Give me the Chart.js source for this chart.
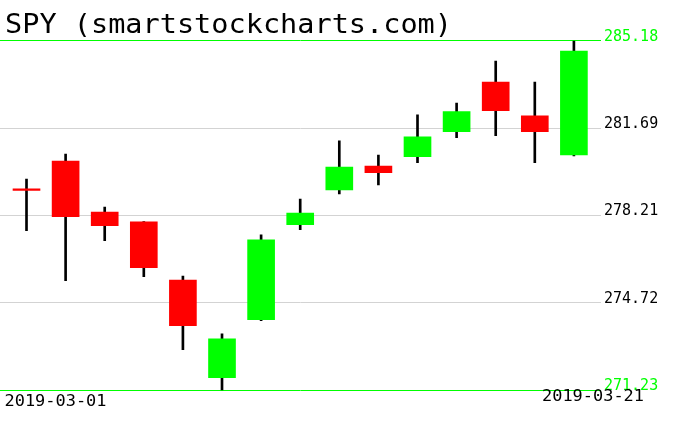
<!DOCTYPE html>
<html>
<head>
<meta charset="utf-8">
<script src="https://cdn.jsdelivr.net/npm/chart.js@4/dist/chart.umd.min.js"></script>
<style>
  html, body { margin: 0; padding: 0; background: #ffffff; }
  #wrap { width: 676px; height: 431px; position: relative; }
  canvas { display: block; }
</style>
</head>
<body>
<div id="wrap"><canvas id="c" width="676" height="431"></canvas></div>
<script>
// ---- data ----
const title = 'SPY (smartstockcharts.com)';
const dates = ['2019-03-01','2019-03-04','2019-03-05','2019-03-06','2019-03-07','2019-03-08',
               '2019-03-11','2019-03-12','2019-03-13','2019-03-14','2019-03-15',
               '2019-03-18','2019-03-19','2019-03-20','2019-03-21'];
const openP  = [279.21, 280.38, 278.34, 277.95, 275.63, 271.73, 274.05, 277.84, 279.23, 280.18, 280.55, 281.55, 283.53, 282.18, 280.62];
const highP  = [279.66, 280.66, 278.54, 277.96, 275.79, 273.48, 277.43, 278.86, 281.18, 280.62, 282.22, 282.69, 284.37, 283.53, 285.18];
const lowP   = [277.60, 275.60, 277.20, 275.76, 272.85, 271.23, 274.01, 277.64, 279.07, 279.43, 280.31, 281.31, 281.39, 280.31, 280.58];
const closeP = [279.21, 278.16, 277.80, 276.12, 273.81, 273.28, 277.23, 278.30, 280.14, 279.91, 281.34, 282.35, 282.39, 281.55, 284.77];
const yTicks = [285.18, 281.69, 278.21, 274.72, 271.23];

const UP = '#00ff00', DOWN = '#ff0000';
const yMin = Math.min(...yTicks), yMax = Math.max(...yTicks);

const bodies = dates.map((d, i) => ({ x: i, y: [openP[i], closeP[i]] }));
const wicks  = dates.map((d, i) => ({ x: i, y: [lowP[i], highP[i]] }));
const bodyColors = dates.map((d, i) => closeP[i] > openP[i] ? UP : DOWN);

const textPlugin = {
  id: 'texts',
  afterDraw(chart) {
    const ctx = chart.ctx;
    ctx.save();
    ctx.fillStyle = '#000';
    ctx.textBaseline = 'alphabetic';
    // title
    ctx.font = "26px 'DejaVu Sans Mono'";
    let w = ctx.measureText(title).width;
    ctx.save();
    ctx.translate(5, 33);
    ctx.scale(447 / w, 1);
    ctx.fillText(title, 0, 0);
    ctx.restore();
    // first and last dates
    ctx.font = "16px 'DejaVu Sans Mono'";
    const first = dates[0], last = dates[dates.length - 1];
    w = ctx.measureText(first).width;
    ctx.save();
    ctx.translate(4.5, 406);
    ctx.scale(102 / w, 1);
    ctx.fillText(first, 0, 0);
    ctx.restore();
    w = ctx.measureText(last).width;
    ctx.save();
    ctx.translate(644 - 102, 401);
    ctx.scale(102 / w, 1);
    ctx.fillText(last, 0, 0);
    ctx.restore();
    ctx.restore();
  }
};

new Chart(document.getElementById('c'), {
  type: 'bar',
  data: {
    datasets: [
      {
        label: 'body',
        data: bodies,
        backgroundColor: bodyColors,
        borderWidth: 0,
        barThickness: 27,
        minBarLength: 1.5,
        grouped: false
      },
      {
        label: 'wick',
        data: wicks,
        backgroundColor: '#000000',
        borderWidth: 0,
        barThickness: 2,
        grouped: false
      }
    ]
  },
  options: {
    responsive: false,
    animation: false,
    devicePixelRatio: 1,
    layout: { padding: { top: 40.7, bottom: 40.7, left: 0, right: 0 } },
    plugins: { legend: { display: false }, tooltip: { enabled: false }, title: { display: false } },
    scales: {
      x: {
        type: 'linear',
        display: false,
        offset: false,
        min: -0.678,
        max: 14.693
      },
      y: {
        position: 'right',
        min: yMin,
        max: yMax,
        z: 1,
        afterBuildTicks(scale) { scale.ticks = yTicks.map(v => ({ value: v })); },
        afterFit(scale) { scale.width = 75; },
        border: { display: false },
        grid: {
          drawTicks: false,
          lineWidth: 1,
          color: (c) => (c.tick && (c.tick.value === yMin || c.tick.value === yMax)) ? UP : '#d3d3d3'
        },
        ticks: {
          padding: 3,
          labelOffset: -4,
          font: { family: "'DejaVu Sans Mono'", size: 15 },
          color: (c) => (c.tick && (c.tick.value === yMin || c.tick.value === yMax)) ? UP : '#000000',
          callback: (v) => Number(v).toFixed(2)
        }
      }
    }
  },
  plugins: [textPlugin]
});
</script>
</body>
</html>
